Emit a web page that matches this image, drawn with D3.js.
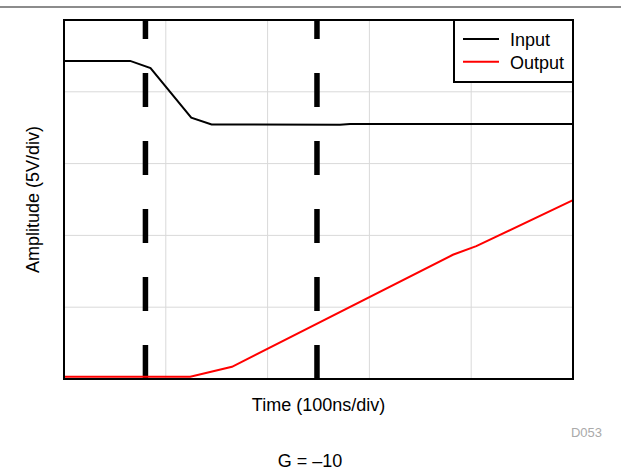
<!DOCTYPE html>
<html><head><meta charset="utf-8">
<script src="https://cdn.jsdelivr.net/npm/d3@7"></script>
<style>body{margin:0;background:#fff;} svg{display:block;}</style>
</head><body>
<script>
// Data (units: divisions)
const inputX  = [0, 0.65, 0.85, 1.25, 1.45, 2.71, 2.81, 5.0];
const inputY  = [4.43, 4.43, 4.33, 3.64, 3.545, 3.54, 3.55, 3.55];
const outputX = [0, 1.24, 1.65, 3.82, 4.05, 5.0];
const outputY = [0.03, 0.03, 0.17, 1.73, 1.85, 2.49];
const markerX = [0.8, 2.485];
const gridTicks = [1, 2, 3, 4];
const seriesNames = ["Input", "Output"];
const seriesColors = ["#000000", "#ff0000"];

const W = 621, H = 470;
const svg = d3.select("body").append("svg").attr("width", W).attr("height", H);
const font = "'Liberation Sans', Arial, sans-serif";

const x = d3.scaleLinear().domain([0, 5]).range([64, 573]);
const y = d3.scaleLinear().domain([0, 5]).range([379, 20]);

// top rule
svg.append("line").attr("x1", 0).attr("x2", W).attr("y1", 7).attr("y2", 7)
  .attr("stroke", "#8c8c8c").attr("stroke-width", 2);

// grid
svg.append("g").selectAll("line").data(gridTicks).join("line")
  .attr("x1", d => x(d)).attr("x2", d => x(d)).attr("y1", y(0)).attr("y2", y(5))
  .attr("stroke", "#d9d9d9").attr("stroke-width", 1);
svg.append("g").selectAll("line").data(gridTicks).join("line")
  .attr("y1", d => y(d)).attr("y2", d => y(d)).attr("x1", x(0)).attr("x2", x(5))
  .attr("stroke", "#d9d9d9").attr("stroke-width", 1);

// dashed markers (drawn from bottom up)
svg.append("g").selectAll("line").data(markerX).join("line")
  .attr("x1", d => x(d)).attr("x2", d => x(d)).attr("y1", y(0)).attr("y2", y(5))
  .attr("stroke", "#000").attr("stroke-width", 5.5).attr("stroke-dasharray", "34,34");

const line = d3.line().x(d => x(d[0])).y(d => y(d[1]));
svg.append("path").datum(d3.zip(inputX, inputY)).attr("d", line)
  .attr("fill", "none").attr("stroke", seriesColors[0]).attr("stroke-width", 2);
svg.append("path").datum(d3.zip(outputX, outputY)).attr("d", line)
  .attr("fill", "none").attr("stroke", seriesColors[1]).attr("stroke-width", 2);

// legend
const lg = svg.append("g");
lg.append("rect").attr("x", 454).attr("y", 20).attr("width", 119).attr("height", 62)
  .attr("fill", "#fff").attr("stroke", "#000").attr("stroke-width", 2);
seriesNames.forEach((n, i) => {
  const ly = 39 + i * 22.7;
  lg.append("line").attr("x1", 463).attr("x2", 499).attr("y1", ly).attr("y2", ly)
    .attr("stroke", seriesColors[i]).attr("stroke-width", 2);
  lg.append("text").attr("x", 510).attr("y", ly + 7).text(n)
    .attr("font-family", font).attr("font-size", 18).attr("fill", "#000");
});

// frame
svg.append("rect").attr("x", 64).attr("y", 20).attr("width", 509).attr("height", 359)
  .attr("fill", "none").attr("stroke", "#000").attr("stroke-width", 2);

// labels
svg.append("text").attr("x", 318.5).attr("y", 411).attr("text-anchor", "middle")
  .attr("font-family", font).attr("font-size", 18).text("Time (100ns/div)");
svg.append("text").attr("transform", "translate(39,199.5) rotate(-90)").attr("text-anchor", "middle")
  .attr("font-family", font).attr("font-size", 18).text("Amplitude (5V/div)");
svg.append("text").attr("x", 602).attr("y", 437).attr("text-anchor", "end")
  .attr("font-family", font).attr("font-size", 13).attr("fill", "#aaaaaa").text("D053");
svg.append("text").attr("x", 310).attr("y", 467).attr("text-anchor", "middle")
  .attr("font-family", font).attr("font-size", 18).text("G = \u201310");
</script>
</body></html>
